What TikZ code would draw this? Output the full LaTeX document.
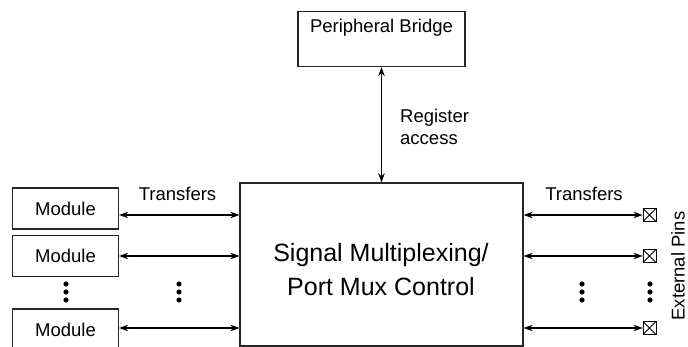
\documentclass[tikz,border=0pt]{standalone}
\usepackage{fontspec}
\setmainfont{Liberation Sans}
\usetikzlibrary{arrows.meta, positioning}

\begin{document}
\begin{tikzpicture}[
  x=1pt, y=-1pt,
  font=\fontsize{18.5}{22}\selectfont,
  box/.style={draw=black!85, line width=1.3pt, minimum width=106pt,
              minimum height=41pt, inner sep=0pt},
  muxbox/.style={draw=black!85, line width=1.3pt, minimum width=283pt,
                 minimum height=163pt, inner sep=0pt},
  pin/.style={draw, line width=0.9pt, minimum size=13pt, inner sep=0pt,
              path picture={\draw[line width=0.8pt]
                (path picture bounding box.south west) -- (path picture bounding box.north east)
                (path picture bounding box.north west) -- (path picture bounding box.south east);}},
  arr/.style={{Stealth[length=9pt,width=6.5pt]}-{Stealth[length=9pt,width=6.5pt]},
              line width=1.1pt},
  lbl/.style={inner sep=0pt, align=left}
]
  \useasboundingbox (0,0) rectangle (688,347);
  \clip (0,0) rectangle (688,347);

  % blocks
  \node[muxbox] (mux) at (381.5,264.5) {};
  \node[align=center, font=\fontsize{25}{34}\selectfont] (muxtxt) at (381,270)
    {Signal Multiplexing/\\Port Mux Control};
  \node[box, minimum width=167pt, minimum height=55pt] (bridge) at (381.5,39) {};
  \node (bridgetxt) at (381.5,28) {Peripheral Bridge};

  \node[box] (mod1) at (65.5,208.5) {Module};
  \node[box] (mod2) at (65.5,256) {Module};
  \node[box] (mod3) at (65.5,329.5) {Module};

  \node[pin] (pin1) at (649.5,215) {};
  \node[pin] (pin2) at (649.5,256) {};
  \node[pin] (pin3) at (649.5,328) {};

  % connectors
  \draw[arr, line width=1.5pt] (bridge.south) -- (mux.north);
  \foreach \i/\y in {1/215,2/256,3/328} {
    \draw[arr] (mod\i.east |- 0,\y) -- (mux.west |- 0,\y);
    \draw[arr] (mux.east |- 0,\y) -- (pin\i.west);
  }

  % labels
  \node[lbl, anchor=west] (regacc) at (400,127) {Register\\access};
  \node (xferl) at (177.5,194) {Transfers};
  \node (xferr) at (584,194) {Transfers};
  \node[rotate=90, inner sep=0pt] (extpins) at (678,266) {External Pins};

  % dots
  \foreach \x in {66,179,582,650}
    \foreach \y in {284,292,300}
      \fill (\x,\y) circle (2.6pt);
\end{tikzpicture}
\end{document}
